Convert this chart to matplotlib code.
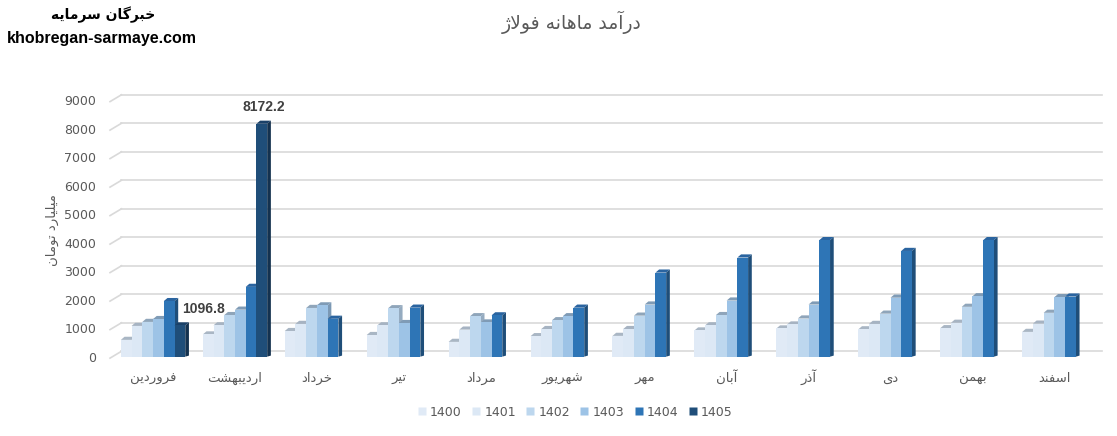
import numpy as np
import matplotlib
matplotlib.use("Agg")
import matplotlib.pyplot as plt
from matplotlib.patches import Polygon
from matplotlib.lines import Line2D

# ---------------- data ----------------
months = ["فروردین", "اردیبهشت", "خرداد", "تیر", "مرداد", "شهریور",
          "مهر", "آبان", "آذر", "دی", "بهمن", "اسفند"]
years = ["1400", "1401", "1402", "1403", "1404", "1405"]
v1400 = [590, 780, 900, 760, 520, 720, 730, 920, 990, 960, 1000, 870]
v1401 = [1080, 1100, 1150, 1100, 950, 970, 970, 1100, 1130, 1150, 1190, 1160]
v1402 = [1220, 1460, 1710, 1700, 1420, 1280, 1440, 1460, 1340, 1510, 1750, 1540]
v1403 = [1320, 1650, 1800, 1180, 1200, 1420, 1830, 1970, 1830, 2070, 2120, 2090]
v1404 = [1950, 2450, 1330, 1720, 1450, 1720, 2950, 3480, 4090, 3710, 4090, 2110]
v1405 = [1096.8, 8172.2] + [np.nan] * 10
series = [v1400, v1401, v1402, v1403, v1404, v1405]
labelled = {(5, 0): "1096.8", (5, 1): "8172.2"}
title = "درآمد ماهانه فولاژ"
ylabel = "میلیارد تومان"
brand_fa = "خبرگان سرمایه"
brand_en = "khobregan-sarmaye.com"

# ---------------- Persian shaping (presentation forms) ----------------
FORMS = {
    'ا': ('\uFE8D', '\uFE8E', None, None),
    'آ': ('\uFE81', '\uFE82', None, None),
    'ب': ('\uFE8F', '\uFE90', '\uFE91', '\uFE92'),
    'پ': ('\uFB56', '\uFB57', '\uFB58', '\uFB59'),
    'ت': ('\uFE95', '\uFE96', '\uFE97', '\uFE98'),
    'خ': ('\uFEA5', '\uFEA6', '\uFEA7', '\uFEA8'),
    'د': ('\uFEA9', '\uFEAA', None, None),
    'ذ': ('\uFEAB', '\uFEAC', None, None),
    'ر': ('\uFEAD', '\uFEAE', None, None),
    'ز': ('\uFEAF', '\uFEB0', None, None),
    'ژ': ('\uFB8A', '\uFB8B', None, None),
    'س': ('\uFEB1', '\uFEB2', '\uFEB3', '\uFEB4'),
    'ش': ('\uFEB5', '\uFEB6', '\uFEB7', '\uFEB8'),
    'ف': ('\uFED1', '\uFED2', '\uFED3', '\uFED4'),
    'ل': ('\uFEDD', '\uFEDE', '\uFEDF', '\uFEE0'),
    'م': ('\uFEE1', '\uFEE2', '\uFEE3', '\uFEE4'),
    'ن': ('\uFEE5', '\uFEE6', '\uFEE7', '\uFEE8'),
    'ه': ('\uFEE9', '\uFEEA', '\uFEEB', '\uFEEC'),
    'و': ('\uFEED', '\uFEEE', None, None),
    'ی': ('\uFBFC', '\uFBFD', '\uFBFE', '\uFBFF'),
    'گ': ('\uFB92', '\uFB93', '\uFB94', '\uFB95'),
}


def fa(text):
    chars = list(text)
    n = len(chars)
    out = []
    prev_joins = False
    i = 0
    while i < n:
        c = chars[i]
        if c not in FORMS:
            out.append(c)
            prev_joins = False
            i += 1
            continue
        if c == 'ل' and i + 1 < n and chars[i + 1] in ('ا', 'آ'):
            lig = ('\uFEFB', '\uFEFC') if chars[i + 1] == 'ا' else ('\uFEF5', '\uFEF6')
            out.append(lig[1] if prev_joins else lig[0])
            prev_joins = False
            i += 2
            continue
        iso, fin, ini, med = FORMS[c]
        nxt = chars[i + 1] if i + 1 < n else None
        joins_next = (ini is not None) and (nxt in FORMS)
        if prev_joins and joins_next:
            g = med
        elif prev_joins:
            g = fin
        elif joins_next:
            g = ini
        else:
            g = iso
        out.append(g)
        prev_joins = joins_next
        i += 1
    return ''.join(reversed(out))


# ---------------- style ----------------
front = ["#e0eaf6", "#dce8f5", "#bdd7ee", "#9dc3e6", "#2e75b6", "#1f4e79"]
topc = ["#a9b6c4", "#a6b3c2", "#8fa5ba", "#7f9bb6", "#2a64a0", "#1a4168"]
sidec = ["#b4c0cc", "#b0bdca", "#95abc0", "#7b98b4", "#1f4e79", "#14324f"]
grid_c = "#d9d9d9"
text_c = "#595959"

fig = plt.figure(figsize=(11.17, 4.36), dpi=100)
ax = fig.add_axes([0.0985, 0.1819, 0.888, 0.5883])
ax.set_xlim(-0.525, 11.58)
ax.set_ylim(0, 9000)
for s in ax.spines.values():
    s.set_visible(False)

x = np.arange(len(months))
bw = 0.131
dx = 0.045      # depth in x (data units)
dy = 110        # depth in y (data units)
nser = len(series)

# back-wall gridlines with short left side-wall diagonals
xb = -0.385
for v in range(0, 9001, 1000):
    ax.plot([xb, 11.58], [v + 190, v + 190], color=grid_c, lw=1.2,
            clip_on=False, zorder=0.5)
    ax.plot([-0.525, xb], [v - 50, v + 190], color=grid_c, lw=1.2,
            clip_on=False, zorder=0.5)

for k, vals in enumerate(series):
    xs = x + (k - (nser - 1) / 2) * bw
    z = 2 + k * 0.1
    ax.bar(xs, vals, width=bw, color=front[k], edgecolor="none",
           zorder=z + 0.05, label=years[k])
    for xi, h in zip(xs, vals):
        if np.isnan(h):
            continue
        x0, x1 = xi - bw / 2, xi + bw / 2
        top = Polygon([(x0, h), (x1, h), (x1 + dx, h + dy), (x0 + dx, h + dy)],
                      closed=True, facecolor=topc[k], edgecolor="none",
                      zorder=z, clip_on=False)
        side = Polygon([(x1, 0), (x1 + dx, dy * 0.35), (x1 + dx, h + dy), (x1, h)],
                       closed=True, facecolor=sidec[k], edgecolor="none",
                       zorder=z, clip_on=False)
        ax.add_patch(top)
        ax.add_patch(side)

# data labels
for (k, m), txt in labelled.items():
    xi = x[m] + (k - (nser - 1) / 2) * bw
    h = series[k][m]
    offx = 17 if m == 0 else 1.5
    ax.annotate(txt, (xi, h), xytext=(offx, 7), textcoords="offset points",
                ha="center", va="bottom", fontsize=10, fontweight="bold",
                color="#404040", family="Liberation Sans", zorder=10)

# axes ticks
ax.set_yticks(range(0, 9001, 1000))
ax.set_yticklabels([str(v) for v in range(0, 9001, 1000)], fontsize=9,
                   color=text_c, family="DejaVu Sans")
ax.tick_params(axis="y", length=0, pad=10)
ax.set_xticks(x)
ax.set_xticklabels([fa(m) for m in months], fontsize=9.5, color=text_c,
                   family="DejaVu Sans")
for lab in ax.get_xticklabels():
    lab.set_verticalalignment("baseline")
ax.tick_params(axis="x", length=0, pad=18)

# y label
fig.text(52 / 1117, 1 - 230 / 436, fa(ylabel), rotation=90, ha="center",
         va="center", fontsize=9.5, color=text_c, family="DejaVu Sans")

# title
fig.text(572 / 1117, 1 - 22 / 436, fa(title), ha="center", va="center",
         fontsize=13.5, color=text_c, family="DejaVu Sans")

# brand
fig.text(103 / 1117, 1 - 15 / 436, fa(brand_fa), ha="center", va="center",
         fontsize=10, fontweight="bold", color="black", family="DejaVu Sans")
fig.text(102 / 1117, 1 - 38 / 436, brand_en, ha="center", va="center",
         fontsize=11.5, fontweight="bold", color="black", family="Liberation Sans")

# legend
handles = [Line2D([], [], marker="s", linestyle="", markersize=6,
                  markerfacecolor=front[k], markeredgecolor="none")
           for k in range(nser)]
fig.legend(handles, years, loc="center", ncol=6,
           bbox_to_anchor=(575 / 1117, 1 - 412 / 436), frameon=False,
           fontsize=9, labelcolor=text_c, handlelength=0.7,
           handletextpad=0.3, columnspacing=0.8)

fig.savefig("out.png", dpi=100)
